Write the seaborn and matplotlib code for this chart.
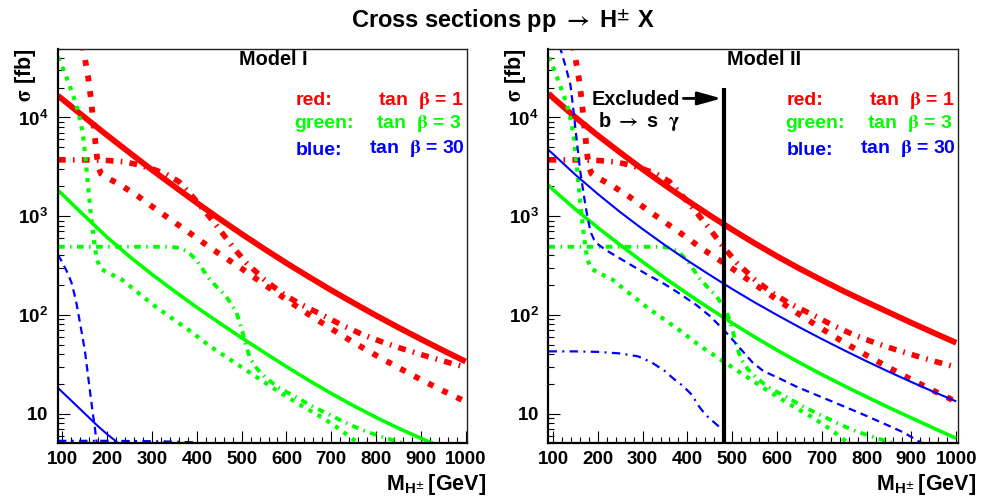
import numpy as np
import pandas as pd
import seaborn as sns
import matplotlib
matplotlib.use("Agg")
import matplotlib.pyplot as plt
from matplotlib.ticker import MultipleLocator, LogLocator, FuncFormatter, NullFormatter

sns.set_theme(style="ticks")
plt.rcParams["font.family"] = ["Liberation Sans", "DejaVu Sans"]
plt.rcParams["font.weight"] = "bold"
plt.rcParams["mathtext.fontset"] = "custom"
plt.rcParams["mathtext.rm"] = "STIXGeneral"
plt.rcParams["mathtext.it"] = "STIXGeneral:italic"
plt.rcParams["mathtext.bf"] = "Liberation Sans:bold"
plt.rcParams["mathtext.fallback"] = "stix"

# ---------------- cross sections in fb versus M_H+- in GeV ----------------
# tan(beta) = 1  (red)
m_red_solid = [90, 100, 150, 200, 250, 300, 350, 400, 450, 500, 550, 600, 650, 700, 750, 800, 850, 900, 950, 1000]
s_red_solid_I = [16600, 15300, 10000, 6590, 4390, 2940, 2000, 1365, 944, 661, 468, 335, 243, 178, 132, 98.6, 74.5, 56.8, 43.6, 33.7]
s_red_solid_II = [17500, 15850, 10050, 6590, 4410, 2990, 2060, 1440, 1020, 731, 532, 393, 295, 225, 173, 135, 106, 83.2, 65.8, 52.2]

m_red_dot = [140, 147, 152, 158, 164, 169, 173, 177, 181, 186, 200, 232, 270, 306, 340, 381, 433, 500, 550, 600, 650, 700, 750, 800, 850, 900, 950, 1000]
s_red_dot = [79000, 48000, 35500, 24500, 15100, 8900, 6000, 4000, 3100, 2700, 2450, 2040, 1580, 1200, 933, 692, 468, 295, 204, 143, 101, 72.4, 52.5, 38.9, 29.2, 22.1, 17.0, 13.2]

m_red_dd = [90, 150, 200, 240, 270, 300, 330, 360, 390, 420, 450, 480, 510, 550, 590, 630, 680, 720, 770, 820, 860, 910, 960, 1000]
s_red_dd = [3720, 3720, 3670, 3550, 3310, 3020, 2690, 2240, 1585, 1096, 741, 490, 339, 229, 166, 129, 100, 80.4, 63.1, 51.9, 45.2, 38.5, 33.1, 29.5]

# tan(beta) = 3  (green)
m_grn_solid_I = [90, 100, 150, 200, 250, 300, 350, 400, 450, 500, 550, 600, 650, 700, 750, 800, 850, 900, 930]
s_grn_solid_I = [1820, 1660, 1000, 610, 389, 257, 174, 119, 83.2, 58.6, 41.7, 29.9, 21.7, 16.0, 12.0, 9.16, 7.11, 5.62, 4.92]
m_grn_solid_II = [90, 100, 150, 200, 250, 300, 350, 400, 450, 500, 550, 600, 650, 700, 750, 800, 850, 900, 950, 1000]
s_grn_solid_II = [2060, 1860, 1175, 767, 511, 345, 236, 164, 116, 82.6, 59.8, 44.0, 32.9, 24.9, 19.1, 14.8, 11.5, 9.04, 7.11, 5.62]

m_grn_dot = [90, 100, 113, 125, 135, 142, 147, 152, 157, 162, 167, 172, 177, 185, 200, 232, 270, 306, 340, 381, 430, 480, 530, 580, 630, 680, 720, 760]
s_grn_dot = [40700, 32400, 22900, 16200, 11500, 8320, 6030, 3630, 2090, 1200, 759, 501, 363, 295, 269, 229, 166, 123, 95.5, 70.8, 47.9, 33.9, 24.0, 17.0, 12.3, 9.12, 6.9, 5.01]

m_grn_dd = [90, 200, 340, 360, 380, 400, 425, 445, 465, 488, 500, 510, 520, 535, 555, 580, 620, 660, 700, 740, 780, 820, 860]
s_grn_dd = [490, 490, 490, 479, 437, 355, 240, 191, 155, 107, 72.4, 47.9, 35.5, 28.2, 22.9, 18.6, 14.8, 11.7, 9.55, 7.76, 6.53, 5.69, 5.01]

# tan(beta) = 30  (blue)
m_blu_solid_I = [90, 120, 150, 180, 200, 225]
s_blu_solid_I = [18.2, 13.5, 10.0, 7.41, 6.17, 5.01]
m_blu_solid_II = [90, 100, 150, 200, 250, 300, 350, 400, 450, 500, 550, 600, 650, 700, 750, 800, 850, 900, 950, 1000]
s_blu_solid_II = [4680, 4270, 2630, 1680, 1100, 741, 509, 356, 254, 183, 134, 99.8, 75.0, 57.0, 43.8, 33.9, 26.5, 20.9, 16.6, 13.3]

m_blu_dash_I = [90, 100, 110, 120, 130, 140, 150, 160, 167, 172, 177]
s_blu_dash_I = [407, 339, 275, 214, 141, 79.4, 43.7, 19.1, 10.7, 7.41, 4.90]
m_blu_dash_II = [110, 117, 128, 139, 145, 150, 156, 161, 167, 172, 178, 184, 192, 202, 217, 250, 306, 350, 381, 420, 450, 485, 518, 545, 570, 604, 645, 719, 793, 853, 882, 924]
s_blu_dash_II = [70800, 49000, 33100, 21400, 12600, 7760, 4470, 2820, 1860, 1320, 933, 692, 575, 513, 457, 372, 263, 204, 166, 126, 97.7, 67.6, 45.7, 33.1, 26.9, 22.9, 18.6, 13.5, 9.77, 7.41, 6.46, 5.01]

m_blu_dd_I = [90, 200, 300, 350, 400, 430]
s_blu_dd_I = [5.3, 5.3, 5.25, 5.2, 5.1, 4.5]
m_blu_dd_II = [90, 150, 200, 250, 290, 320, 350, 370, 390, 410, 425, 440, 455, 475, 480]
s_blu_dd_II = [42.7, 42.7, 42.2, 40.7, 38.0, 33.1, 26.9, 22.4, 19.1, 15.5, 12.0, 9.77, 8.51, 7.08, 6.6]

# b -> s gamma bound in Model II
m_excl = 482
s_excl_top = 2.0e4

RED, GREEN, BLUE = "#ff0000", "#00ff00", "#0000ff"
DOT_R = (0, (1.0, 1.7))
DOT_G = (0, (1.0, 1.5))
DD_R = (0, (1.4, 1.3, 0.3, 1.3))
DD_G = (0, (1.7, 1.4, 0.4, 1.4))
DASH_B = (0, (3.4, 2.3))
DD_B = (0, (3.8, 2.4, 0.9, 2.4))


def curve(ax, m, s, color, lw, ls="-"):
    df = pd.DataFrame({"m": m, "s": s})
    sns.lineplot(data=df, x="m", y="s", ax=ax, color=color, linewidth=lw,
                 linestyle=ls, estimator=None, sort=False, legend=False,
                 solid_capstyle="butt", dash_capstyle="butt")


fig = plt.figure(figsize=(9.89, 4.98), dpi=100)
axL = fig.add_axes([0.0586, 0.1098, 0.4136, 0.7928])
axR = fig.add_axes([0.5546, 0.1098, 0.4136, 0.7928])

# Model I
curve(axL, m_red_solid, s_red_solid_I, RED, 4.2)
curve(axL, m_red_dot, s_red_dot, RED, 4.2, DOT_R)
curve(axL, m_red_dd, s_red_dd, RED, 4.0, DD_R)
curve(axL, m_grn_solid_I, s_grn_solid_I, GREEN, 2.6)
curve(axL, m_grn_dot, s_grn_dot, GREEN, 3.0, DOT_G)
curve(axL, m_grn_dd, s_grn_dd, GREEN, 2.8, DD_G)
curve(axL, m_blu_solid_I, s_blu_solid_I, BLUE, 1.5)
curve(axL, m_blu_dash_I, s_blu_dash_I, BLUE, 1.6, DASH_B)
curve(axL, m_blu_dd_I, s_blu_dd_I, BLUE, 1.6, DD_B)

# Model II
curve(axR, m_red_solid, s_red_solid_II, RED, 4.2)
curve(axR, m_red_dot, s_red_dot, RED, 4.2, DOT_R)
curve(axR, m_red_dd, s_red_dd, RED, 4.0, DD_R)
curve(axR, m_grn_solid_II, s_grn_solid_II, GREEN, 2.6)
curve(axR, m_grn_dot, s_grn_dot, GREEN, 3.0, DOT_G)
curve(axR, m_grn_dd, s_grn_dd, GREEN, 2.8, DD_G)
curve(axR, m_blu_solid_II, s_blu_solid_II, BLUE, 1.5)
curve(axR, m_blu_dash_II, s_blu_dash_II, BLUE, 1.6, DASH_B)
curve(axR, m_blu_dd_II, s_blu_dd_II, BLUE, 1.6, DD_B)

axR.vlines(m_excl, 5, s_excl_top, color="black", lw=3.0)
axR.annotate("", xy=(m_excl - 6, 1.56e4), xytext=(391, 1.56e4),
             arrowprops=dict(arrowstyle="-|>,head_length=0.9,head_width=0.25", color="black", lw=2.0,
                             mutation_scale=16, shrinkA=0, shrinkB=0))
axR.text(187, 1.33e4, "Excluded", ha="left", va="baseline", fontsize=14.3, color="black")
axR.text(201, 8.0e3, r"b $\rightarrow$ s  $\mathrm{\gamma}$", ha="left", va="baseline",
         fontsize=14.3, color="black")


def yfmt(v, pos):
    e = int(round(np.log10(v)))
    if e == 1:
        return r"$\mathbf{10}\!\!$"
    return r"$\mathbf{10^{%d}}$" % e


for ax, name in ((axL, "Model I"), (axR, "Model II")):
    ax.set_yscale("log")
    ax.set_xlim(90, 1003)
    ax.set_ylim(5, 5e4)
    ax.set_xlabel("")
    ax.set_ylabel("")
    ax.xaxis.set_major_locator(MultipleLocator(100))
    ax.xaxis.set_minor_locator(MultipleLocator(20))
    ax.yaxis.set_major_locator(LogLocator(base=10, numticks=10))
    ax.yaxis.set_minor_locator(LogLocator(base=10, subs=np.arange(2, 10), numticks=20))
    ax.yaxis.set_major_formatter(FuncFormatter(yfmt))
    ax.yaxis.set_minor_formatter(NullFormatter())
    ax.tick_params(which="both", direction="in", top=False, right=False, width=0.8,
                   color="black", labelsize=13.5, labelcolor="black")
    ax.tick_params(which="major", length=8.6)
    ax.tick_params(which="minor", length=4.3)
    ax.tick_params(axis="x", which="major", pad=5.5)
    ax.tick_params(axis="y", which="major", pad=7.0)
    for lab in ax.get_xticklabels():
        lab.set_fontweight("bold")
    for side in ("left", "bottom"):
        ax.spines[side].set_linewidth(1.6)
        ax.spines[side].set_color("black")
    for side in ("top", "right"):
        ax.spines[side].set_linewidth(1.0)
        ax.spines[side].set_color("#222222")
    ax.set_facecolor("white")

    ax.text(0.527, 0.9573, name, transform=ax.transAxes, ha="center", va="baseline",
            fontsize=14.3, color="black")
    tx = ax.transAxes
    ax.text(0.582, 0.857, "red:", transform=tx, ha="left", va="baseline", fontsize=14, color=RED)
    ax.text(0.5785, 0.7987, "green:", transform=tx, ha="left", va="baseline", fontsize=14, color=GREEN)
    ax.text(0.582, 0.7303, "blue:", transform=tx, ha="left", va="baseline", fontsize=14, color=BLUE)
    ax.text(0.7826, 0.857, r"tan  $\mathrm{\beta}$ = 1", transform=tx, ha="left", va="baseline",
            fontsize=14, color=RED)
    ax.text(0.7785, 0.7987, r"tan  $\mathrm{\beta}$ = 3", transform=tx, ha="left", va="baseline",
            fontsize=14, color=GREEN)
    ax.text(0.7613, 0.7345, r"tan  $\mathrm{\beta}$ = 30", transform=tx, ha="left", va="baseline",
            fontsize=14, color=BLUE)

# axis titles
for xl, xr in ((25 / 989, 486 / 989), (515 / 989, 976 / 989)):
    fig.text(xl, 1 - 48.5 / 498, r"$\mathrm{\sigma}$ [fb]", rotation=90, ha="center", va="top",
             fontsize=15.5, color="black")
    fig.text(xr, 1 - 490 / 498, r"$\mathbf{M}_{\mathbf{H}^{\pm}}\,$[GeV]", ha="right", va="baseline",
             fontsize=15.5, color="black")

fig.text(503 / 989, 1 - 27 / 498, r"Cross sections pp $\rightarrow$ $\mathbf{H}^{\pm}$ X",
         ha="center", va="baseline", fontsize=17, color="black")

fig.savefig("out.png", dpi=100, facecolor="white")
